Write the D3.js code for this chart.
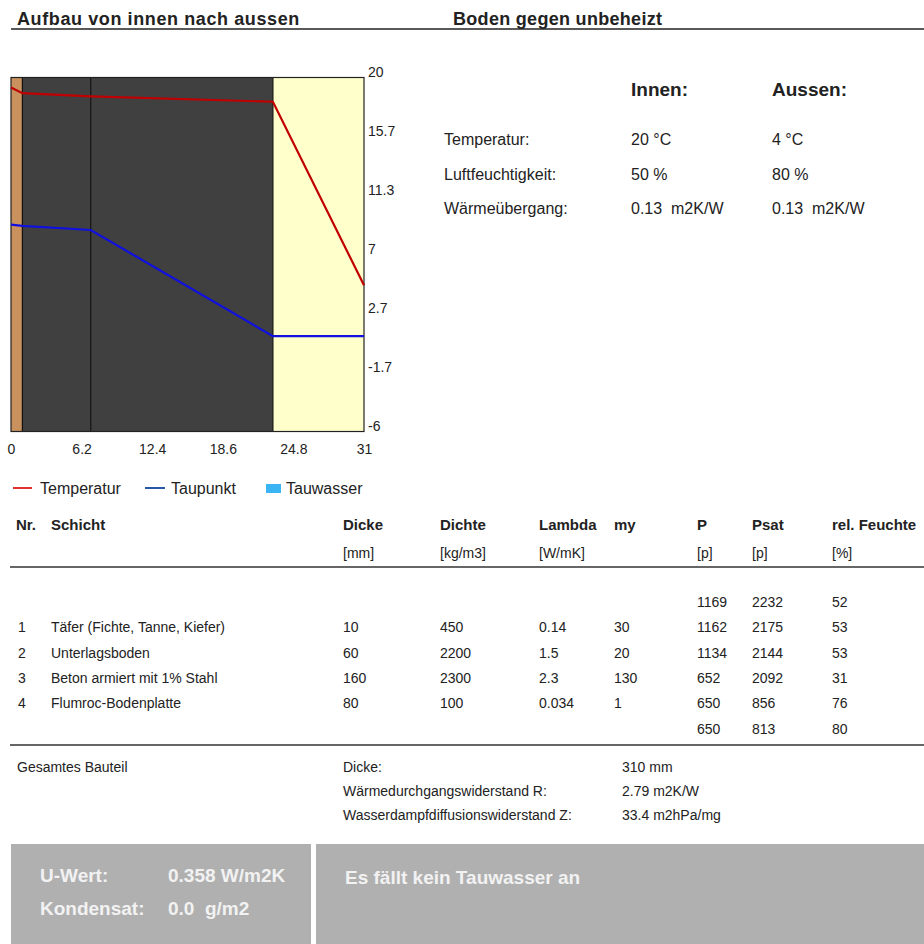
<!DOCTYPE html>
<html>
<head>
<meta charset="utf-8">
<script src="https://cdn.jsdelivr.net/npm/d3@7"></script>
<style>
  body { margin: 0; background: #fff; }
  svg text { font-family: Arial, "Liberation Sans", Helvetica, sans-serif; fill: #222; white-space: pre; }
</style>
</head>
<body>
<div id="chart-area"></div>
<script>
/* Data */
var layerNr = ["1", "2", "3", "4"];
var layerNames = ["Täfer (Fichte, Tanne, Kiefer)", "Unterlagsboden", "Beton armiert mit 1% Stahl", "Flumroc-Bodenplatte"];
var layerThickness = [10, 60, 160, 80];          // mm
var layerDensity = [450, 2200, 2300, 100];
var layerLambda = ["0.14", "1.5", "2.3", "0.034"];
var layerMy = [30, 20, 130, 1];
var pValues = [1169, 1162, 1134, 652, 650, 650];
var psatValues = [2232, 2175, 2144, 2092, 856, 813];
var relFeuchte = [52, 53, 53, 31, 76, 80];

// profile at the layer boundaries (cm from inside)
var tempProfile = [19.26, 18.85, 18.62, 18.22, 4.74];
var dewProfile = [9.2, 9.1, 8.8, 1.0, 1.0];

var climateRows = ["Temperatur:", "Luftfeuchtigkeit:", "Wärmeübergang:"];
var innenValues = ["20 °C", "50 %", "0.13  m2K/W"];
var aussenValues = ["4 °C", "80 %", "0.13  m2K/W"];

var summaryLabels = ["Dicke:", "Wärmedurchgangswiderstand R:", "Wasserdampfdiffusionswiderstand Z:"];
var summaryValues = ["310 mm", "2.79 m2K/W", "33.4 m2hPa/mg"];

var layerColors = ["#c8915e", "#404040", "#404040", "#ffffcc"];

/* Canvas */
var W = 924, H = 944;
var svg = d3.select("#chart-area").append("svg")
  .attr("width", W)
  .attr("height", H);

/* Headers */
svg.append("text").attr("x", 17).attr("y", 25)
  .attr("font-size", "18px").attr("font-weight", "bold").attr("letter-spacing", "0.6px")
  .text("Aufbau von innen nach aussen");
svg.append("text").attr("x", 453).attr("y", 25)
  .attr("font-size", "18px").attr("font-weight", "bold").attr("letter-spacing", "0.3px")
  .text("Boden gegen unbeheizt");
svg.append("line").attr("x1", 11).attr("x2", W).attr("y1", 29).attr("y2", 29)
  .attr("stroke", "#222").attr("stroke-width", 1.3);

/* Chart */
var plot = { left: 11, top: 77.5, width: 353, height: 354 };
var g = svg.append("g")
  .attr("transform", "translate(" + plot.left + ", " + plot.top + ")");

var bounds = [0];
layerThickness.forEach(function(t) { bounds.push(bounds[bounds.length - 1] + t / 10); });

var x = d3.scaleLinear().domain([0, 31]).range([0, plot.width]);
var y = d3.scaleLinear().domain([-6, 20]).range([plot.height, 0]);

// layers
g.selectAll("rect.layer")
  .data(layerThickness)
  .enter()
  .append("rect")
    .attr("class", "layer")
    .attr("x", function(d, i) { return x(bounds[i]); })
    .attr("y", 0)
    .attr("width", function(d, i) { return x(bounds[i + 1]) - x(bounds[i]); })
    .attr("height", plot.height)
    .attr("fill", function(d, i) { return layerColors[i]; });

g.selectAll("line.sep")
  .data(bounds.slice(1, -1))
  .enter()
  .append("line")
    .attr("class", "sep")
    .attr("x1", function(d) { return x(d); })
    .attr("x2", function(d) { return x(d); })
    .attr("y1", 0).attr("y2", plot.height)
    .attr("stroke", "#111").attr("stroke-width", 1.2);

g.append("rect")
  .attr("width", plot.width).attr("height", plot.height)
  .attr("fill", "none").attr("stroke", "#222").attr("stroke-width", 1.2);

var line = d3.line()
  .x(function(d, i) { return x(bounds[i]); })
  .y(function(d) { return y(d); });

g.append("path").datum(tempProfile)
  .attr("d", line).attr("fill", "none")
  .attr("stroke", "#c00000").attr("stroke-width", 2.2);
g.append("path").datum(dewProfile)
  .attr("d", line).attr("fill", "none")
  .attr("stroke", "#1010e0").attr("stroke-width", 2.2);

// axes
var fmt = function(d) { return d3.format(".1~f")(d).replace("\u2212", "-"); };

var xAxisCall = d3.axisBottom(x)
  .tickValues(d3.range(6).map(function(k) { return k * 6.2; }))
  .tickSize(0).tickPadding(13)
  .tickFormat(fmt);
var xAxis = g.append("g")
  .attr("class", "x axis")
  .attr("transform", "translate(0, " + plot.height + ")")
  .call(xAxisCall);
xAxis.select(".domain").remove();

var yAxisCall = d3.axisRight(y)
  .tickValues(d3.range(7).map(function(k) { return -6 + k * 26 / 6; }))
  .tickSize(0).tickPadding(4)
  .tickFormat(fmt);
var yAxis = g.append("g")
  .attr("class", "y axis")
  .attr("transform", "translate(" + plot.width + ", 0)")
  .call(yAxisCall);
yAxis.select(".domain").remove();
yAxis.selectAll("text").attr("dy", "-0.05em");

svg.selectAll(".axis text")
  .attr("font-size", "14px")
  .attr("font-family", "Arial, 'Liberation Sans', sans-serif")
  .attr("fill", "#222");

/* Legend */
var legend = svg.append("g").attr("transform", "translate(0, 488)");
legend.append("line").attr("x1", 13).attr("x2", 32).attr("y1", 0).attr("y2", 0)
  .attr("stroke", "#e03030").attr("stroke-width", 2);
legend.append("text").attr("x", 40).attr("y", 6).attr("font-size", "16px").text("Temperatur");
legend.append("line").attr("x1", 145).attr("x2", 165).attr("y1", 0).attr("y2", 0)
  .attr("stroke", "#2a56a8").attr("stroke-width", 2);
legend.append("text").attr("x", 171).attr("y", 6).attr("font-size", "16px").text("Taupunkt");
legend.append("rect").attr("x", 266).attr("y", -4).attr("width", 15).attr("height", 9)
  .attr("fill", "#3ab4f2");
legend.append("text").attr("x", 286).attr("y", 6).attr("font-size", "16px").text("Tauwasser");

/* Climate panel */
svg.append("text").attr("x", 631).attr("y", 96)
  .attr("font-size", "19px").attr("font-weight", "bold").text("Innen:");
svg.append("text").attr("x", 772).attr("y", 96)
  .attr("font-size", "19px").attr("font-weight", "bold").text("Aussen:");
climateRows.forEach(function(r, i) {
  var yy = 145 + i * 34.5;
  svg.append("text").attr("x", 444).attr("y", yy).attr("font-size", "16px").text(r);
  svg.append("text").attr("x", 631).attr("y", yy).attr("font-size", "16px").text(innenValues[i]);
  svg.append("text").attr("x", 772).attr("y", yy).attr("font-size", "16px").text(aussenValues[i]);
});

/* Table */
var cols = { nr: 16, name: 51, dicke: 343, dichte: 440, lambda: 539, my: 614, p: 697, psat: 752, rel: 832 };
var heads = [["Nr.", cols.nr], ["Schicht", cols.name], ["Dicke", cols.dicke], ["Dichte", cols.dichte],
  ["Lambda", cols.lambda], ["my", cols.my], ["P", cols.p], ["Psat", cols.psat], ["rel. Feuchte", cols.rel]];
var units = [["[mm]", cols.dicke], ["[kg/m3]", cols.dichte], ["[W/mK]", cols.lambda],
  ["[p]", cols.p], ["[p]", cols.psat], ["[%]", cols.rel]];

var table = svg.append("g").attr("font-size", "14px");
heads.forEach(function(h) {
  table.append("text").attr("x", h[1]).attr("y", 530)
    .attr("font-size", "15px").attr("font-weight", "bold").text(h[0]);
});
units.forEach(function(u) {
  table.append("text").attr("x", u[1]).attr("y", 558).text(u[0]);
});
svg.append("line").attr("x1", 10).attr("x2", W).attr("y1", 567).attr("y2", 567)
  .attr("stroke", "#333").attr("stroke-width", 1.6);

var rowY = function(i) { return 607 + i * 25.3; };
pValues.forEach(function(p, i) {
  table.append("text").attr("x", cols.p).attr("y", rowY(i)).text(p);
  table.append("text").attr("x", cols.psat).attr("y", rowY(i)).text(psatValues[i]);
  table.append("text").attr("x", cols.rel).attr("y", rowY(i)).text(relFeuchte[i]);
});
layerNames.forEach(function(n, i) {
  var yy = rowY(i + 1);
  table.append("text").attr("x", cols.nr + 2).attr("y", yy).text(layerNr[i]);
  table.append("text").attr("x", cols.name).attr("y", yy).text(n);
  table.append("text").attr("x", cols.dicke).attr("y", yy).text(layerThickness[i]);
  table.append("text").attr("x", cols.dichte).attr("y", yy).text(layerDensity[i]);
  table.append("text").attr("x", cols.lambda).attr("y", yy).text(layerLambda[i]);
  table.append("text").attr("x", cols.my).attr("y", yy).text(layerMy[i]);
});
svg.append("line").attr("x1", 10).attr("x2", W).attr("y1", 745).attr("y2", 745)
  .attr("stroke", "#333").attr("stroke-width", 1.6);

/* Summary */
table.append("text").attr("x", 17).attr("y", 772).text("Gesamtes Bauteil");
summaryLabels.forEach(function(s, i) {
  var yy = 772 + i * 24;
  table.append("text").attr("x", cols.dicke).attr("y", yy).text(s);
  table.append("text").attr("x", 622).attr("y", yy).text(summaryValues[i]);
});

/* Result boxes */
svg.append("rect").attr("x", 11).attr("y", 844).attr("width", 300).attr("height", H - 844)
  .attr("fill", "#b0b0b0");
svg.append("rect").attr("x", 316).attr("y", 844).attr("width", W - 316).attr("height", H - 844)
  .attr("fill", "#b0b0b0");

var boxText = svg.append("g").attr("font-size", "19px").attr("font-weight", "bold");
boxText.append("text").attr("x", 40).attr("y", 882).style("fill", "#f2f2f2").text("U-Wert:");
boxText.append("text").attr("x", 168).attr("y", 882).style("fill", "#f2f2f2").text("0.358 W/m2K");
boxText.append("text").attr("x", 40).attr("y", 915).style("fill", "#f2f2f2").text("Kondensat:");
boxText.append("text").attr("x", 168).attr("y", 915).style("fill", "#f2f2f2").text("0.0  g/m2");
boxText.append("text").attr("x", 345).attr("y", 884).style("fill", "#f2f2f2").text("Es fällt kein Tauwasser an");
</script>
</body>
</html>
